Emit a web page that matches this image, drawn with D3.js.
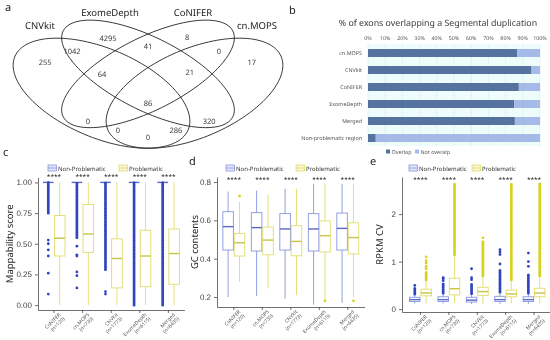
<!DOCTYPE html>
<html lang="en">
<head>
<meta charset="UTF-8">
<title>SD figure</title>
<script src="https://d3js.org/d3.v7.min.js"></script>
<style>
  body { margin: 0; background: #fff; }
  svg { font-family: "Noto Sans", "DejaVu Sans", sans-serif; will-change: transform; }
  text { text-rendering: geometricPrecision; }
</style>
</head>
<body>
<script>
// ---- panel a : venn
var vennSets = ["CNVkit", "ExomeDepth", "CoNIFER", "cn.MOPS"];
var vennCounts = [255, 1042, 4295, 41, 8, 0, 17, 64, 21, 86, 0, 320, 0, 286, 0];

// ---- panel b : % exons overlapping segmental duplication
var sdCats = ["cn.MOPS", "CNVkit", "CoNIFER", "ExomeDepth", "Merged", "Non-problematic region"];
var sdOverlap = [86.8, 95.1, 87.7, 85.0, 85.4, 4.5];
var sdTicks = [0, 10, 20, 30, 40, 50, 60, 70, 80, 90, 100];
var sdLegend = ["Overlap", "Not overalp"];

// ---- panels c-e : boxplots
var groups = ["CoNIFER", "cn.MOPS", "CNVkit", "ExomeDepth", "Merged"];
var groupN = ["(n=120)", "(n=730)", "(n=1773)", "(n=6115)", "(n=6435)"];
var boxLegend = ["Non-Problematic", "Problematic"];

// stats are [lower whisker, q1, median, q3, upper whisker]
var mapNP = [[1, 1, 1, 1, 1], [1, 1, 1, 1, 1], [1, 1, 1, 1, 1], [1, 1, 1, 1, 1], [1, 1, 1, 1, 1]];
var mapP = [[0, 0.40, 0.545, 0.73, 1], [0, 0.43, 0.58, 0.82, 1], [0, 0.14, 0.38, 0.54, 1], [0, 0.15, 0.40, 0.61, 1], [0, 0.17, 0.42, 0.62, 1]];
// stretches where outliers are packed solid, then single outliers
var mapNPRun = [[0.75, 1], [0.55, 1], [0.29, 1], [0, 1], [0, 1]];
var mapNPOut = [[0.53, 0.50, 0.45, 0.40, 0.26, 0.09], [0.48, 0.41, 0.40, 0.27, 0.24, 0.14], [0.11, 0.09], [], []];
var mapPRun = [null, null, null, null, null];
var mapPOut = [[], [], [], [], []];

var gcNP = [[0.20, 0.445, 0.567, 0.645, 0.75], [0.205, 0.44, 0.562, 0.64, 0.755], [0.19, 0.445, 0.555, 0.635, 0.765], [0.16, 0.44, 0.555, 0.635, 0.79], [0.17, 0.445, 0.558, 0.638, 0.79]];
var gcP = [[0.28, 0.414, 0.483, 0.532, 0.697], [0.245, 0.42, 0.497, 0.565, 0.735], [0.21, 0.415, 0.49, 0.572, 0.765], [0.19, 0.435, 0.52, 0.597, 0.79], [0.2, 0.425, 0.51, 0.587, 0.79]];
var gcNPRun = [null, null, null, null, null];
var gcNPOut = [[], [], [], [], []];
var gcPRun = [null, null, null, null, null];
var gcPOut = [[0.727], [], [], [0.18], [0.18]];

var cvNP = [[0.12, 0.16, 0.20, 0.25, 0.32], [0.12, 0.16, 0.20, 0.26, 0.34], [0.11, 0.15, 0.19, 0.25, 0.33], [0.11, 0.16, 0.20, 0.27, 0.36], [0.11, 0.16, 0.20, 0.26, 0.34]];
var cvNPRun = [[0.32, 0.45], [0.34, 0.55], [0.33, 0.55], [0.36, 0.82], [0.34, 0.75]];
var cvNPOut = [[0.5], [0.6, 0.64, 0.66], [0.62, 0.66, 0.85], [0.95, 1.15, 1.2, 1.25], [0.9, 1.0, 1.18]];
var cvP = [[0.12, 0.28, 0.34, 0.42, 0.62], [0.12, 0.30, 0.43, 0.65, 1.15], [0.12, 0.29, 0.37, 0.46, 0.70], [0.12, 0.26, 0.32, 0.40, 0.62], [0.12, 0.26, 0.34, 0.44, 0.70]];
var cvPRun = [[0.62, 0.8], [1.15, 2.65], [0.70, 1.45], [0.62, 2.65], [0.70, 2.65]];
var cvPOut = [[0.85, 0.9, 0.97, 1.02, 1.1], [], [1.5], [], []];

var npCol = "#8796dd", npMed = "#5a68c8", npDot = "#3144c0", npFill = "#e3e7f8";
var pCol = "#e0dc6c", pMed = "#cbc444", pDot = "#d8d21c", pFill = "#f8f6d8";
var txt = "#3a3a3a";

var svg = d3.select("body").append("svg").attr("width", 550).attr("height", 340);

function letter(s, x, y) {
    svg.append("text").attr("x", x).attr("y", y).attr("font-size", 11).attr("fill", "#222").text(s);
}

// ================= a : venn =================
letter("a", 5, 11);
var vx = d3.scaleLinear().domain([0, 1]).range([148 - 155, 148 + 155]);
var vy = d3.scaleLinear().domain([0, 1]).range([87.4 + 96.5, 87.4 - 96.5]);
// ellipses: cx, cy, semi axis a, semi axis b, angle (unit square, y up)
var vennShapes = [[0.35, 0.47, 0.35, 0.20, 135], [0.50, 0.57, 0.36, 0.16, 135], [0.50, 0.57, 0.36, 0.16, 45], [0.65, 0.47, 0.35, 0.20, 45]];
var vennLabelPos = [[0.168, 0.632], [0.255, 0.689], [0.371, 0.756], [0.5, 0.715], [0.626, 0.761], [0.729, 0.689], [0.835, 0.632],
    [0.352, 0.569], [0.635, 0.580], [0.5, 0.419], [0.306, 0.325], [0.697, 0.325], [0.403, 0.279], [0.590, 0.279], [0.5, 0.243]];
var vennNamePos = [[40, 29], [110, 16], [193, 16], [257, 29]];

var ellLine = d3.line().curve(d3.curveLinearClosed);
vennShapes.forEach(function (e) {
    var th = e[4] * Math.PI / 180, pts = [];
    for (var k = 0; k < 120; k++) {
        var t = k / 120 * 2 * Math.PI;
        var ux = e[0] + e[2] * Math.cos(t) * Math.cos(th) - e[3] * Math.sin(t) * Math.sin(th);
        var uy = e[1] + e[2] * Math.cos(t) * Math.sin(th) + e[3] * Math.sin(t) * Math.cos(th);
        pts.push([vx(ux), vy(uy)]);
    }
    svg.append("path").attr("d", ellLine(pts)).attr("fill", "none").attr("stroke", "#222").attr("stroke-width", 0.9);
});
svg.append("g").selectAll("text").data(vennCounts).join("text")
    .attr("x", function (d, i) { return vx(vennLabelPos[i][0]); })
    .attr("y", function (d, i) { return vy(vennLabelPos[i][1]); })
    .attr("dy", "0.35em").attr("text-anchor", "middle").attr("font-size", 7.5).attr("fill", txt)
    .text(function (d) { return d; });
svg.append("g").selectAll("text").data(vennSets).join("text")
    .attr("x", function (d, i) { return vennNamePos[i][0]; })
    .attr("y", function (d, i) { return vennNamePos[i][1]; })
    .attr("text-anchor", "middle").attr("font-size", 9.5).attr("fill", "#222")
    .text(function (d) { return d; });

// ================= b : stacked bars =================
letter("b", 289, 14);
var bx = d3.scaleLinear().domain([0, 100]).range([368, 540]);
var by = d3.scaleBand().domain(sdCats).range([44.5, 146.5]).paddingInner(0.53).paddingOuter(0.265);
var gb = svg.append("g");
gb.append("rect").attr("x", bx(0)).attr("y", 44).attr("width", bx(100) - bx(0)).attr("height", 102).attr("fill", "#eefcfc");
gb.append("g").selectAll("line").data(sdTicks).join("line")
    .attr("x1", bx).attr("x2", bx).attr("y1", 44).attr("y2", 146)
    .attr("stroke", "#d2ecec").attr("stroke-width", 0.6);
gb.append("text").attr("x", 438).attr("y", 26).attr("text-anchor", "middle")
    .attr("font-size", 8.8).attr("fill", txt).text("% of exons overlapping a Segmental duplication");
gb.append("g").selectAll("text").data(sdTicks).join("text")
    .attr("x", bx).attr("y", 40).attr("text-anchor", "middle").attr("font-size", 5.3).attr("fill", "#555")
    .text(function (d) { return d + "%"; });
gb.append("g").selectAll("rect").data(sdCats).join("rect")
    .attr("x", bx(0)).attr("y", function (d) { return by(d); })
    .attr("width", function (d, i) { return bx(sdOverlap[i]) - bx(0); })
    .attr("height", by.bandwidth()).attr("fill", "#56729f");
gb.append("g").selectAll("rect").data(sdCats).join("rect")
    .attr("x", function (d, i) { return bx(sdOverlap[i]); }).attr("y", function (d) { return by(d); })
    .attr("width", function (d, i) { return bx(100) - bx(sdOverlap[i]); })
    .attr("height", by.bandwidth()).attr("fill", "#a5bae6");
gb.append("g").selectAll("text").data(sdCats).join("text")
    .attr("x", 362).attr("y", function (d) { return by(d) + by.bandwidth() / 2; })
    .attr("dy", "0.35em").attr("text-anchor", "end").attr("font-size", 5.4).attr("fill", "#555")
    .text(function (d) { return d; });
var sdLegX = [386, 415], sdLegCol = ["#56729f", "#a5bae6"];
sdLegend.forEach(function (s, i) {
    gb.append("rect").attr("x", sdLegX[i]).attr("y", 149.5).attr("width", 4).attr("height", 4).attr("fill", sdLegCol[i]);
    gb.append("text").attr("x", sdLegX[i] + 5.5).attr("y", 154).attr("font-size", 5.4).attr("fill", "#555").text(s);
});

// ================= c, d, e : boxplots =================
function boxPanel(p) {
    var x = d3.scaleBand().domain(groups).range([p.left, p.right]).paddingOuter(p.pad);
    var y = d3.scaleLinear().domain(p.dom).range([p.bottom, p.top]);
    var step = x.step(), bw = step * 0.37, dodge = step * 0.2;
    var g = svg.append("g");

    var ya = g.append("g").attr("transform", "translate(" + p.left + ",0)")
        .call(d3.axisLeft(y).tickValues(p.ticks).tickFormat(p.fmt).tickSize(3).tickSizeOuter(0));
    var xa = g.append("g").attr("transform", "translate(0," + p.bottom + ")")
        .call(d3.axisBottom(x).tickSize(3).tickSizeOuter(0).tickFormat(""));
    g.selectAll(".domain, .tick line").attr("stroke", "#333").attr("stroke-width", 0.7);
    ya.selectAll("text").attr("font-size", 8).attr("fill", "#444").attr("font-family", null);

    // rotated category labels
    var lab = g.append("g").selectAll("text").data(groups).join("text")
        .attr("transform", function (d) { return "translate(" + (x(d) + step / 2 + 7) + "," + (p.bottom + 5) + ") rotate(-45)"; })
        .attr("text-anchor", "end").attr("font-size", 5).attr("fill", "#555");
    lab.append("tspan").attr("x", 0).text(function (d) { return d; });
    lab.append("tspan").attr("x", 0).attr("dy", "1.15em").text(function (d, i) { return groupN[i]; });

    // axis title
    g.append("text").attr("transform", "translate(" + p.titleX + "," + ((p.top + p.bottom) / 2) + ") rotate(-90)")
        .attr("text-anchor", "middle").attr("font-size", 9.5).attr("fill", "#222").text(p.title);

    var series = [
        { stats: p.np, run: p.npRun, out: p.npOut, off: -dodge, c: npCol, m: npMed, dot: npDot },
        { stats: p.p, run: p.pRun, out: p.pOut, off: dodge, c: pCol, m: pMed, dot: pDot }
    ];
    series.forEach(function (s) {
        var sg = g.append("g").selectAll("g").data(groups).join("g")
            .attr("transform", function (d) { return "translate(" + (x(d) + step / 2 + s.off) + ",0)"; });
        sg.append("line").attr("y1", function (d, i) { return y(s.stats[i][0]); }).attr("y2", function (d, i) { return y(s.stats[i][4]); })
            .attr("stroke", s.c).attr("stroke-width", 0.9);
        sg.append("rect").attr("x", -bw / 2).attr("width", bw)
            .attr("y", function (d, i) { return y(s.stats[i][3]); })
            .attr("height", function (d, i) { return y(s.stats[i][1]) - y(s.stats[i][3]); })
            .attr("fill", "#fff").attr("stroke", s.c).attr("stroke-width", 0.9);
        sg.append("line").attr("x1", -bw / 2).attr("x2", bw / 2)
            .attr("y1", function (d, i) { return y(s.stats[i][2]); }).attr("y2", function (d, i) { return y(s.stats[i][2]); })
            .attr("stroke", s.m).attr("stroke-width", 1.4);
        // packed outliers: dotted stroke with round caps
        sg.filter(function (d, i) { return s.run[i]; }).append("line")
            .attr("y1", function (d) { return y(s.run[groups.indexOf(d)][0]); })
            .attr("y2", function (d) { return y(s.run[groups.indexOf(d)][1]); })
            .attr("stroke", s.dot).attr("stroke-width", 3).attr("stroke-linecap", "round").attr("stroke-dasharray", "0,1.8");
        sg.selectAll("circle").data(function (d, i) { return s.out[i]; }).join("circle")
            .attr("cx", 0).attr("cy", function (v) { return y(v); }).attr("r", 1.4).attr("fill", s.dot);
    });

    // significance stars
    g.append("g").selectAll("text").data(groups).join("text")
        .attr("x", function (d) { return x(d) + step / 2; }).attr("y", p.starY)
        .attr("text-anchor", "middle").attr("font-size", 6.5).attr("fill", "#222").text("****");

    // legend
    var lx = p.legX;
    boxLegend.forEach(function (s, i) {
        var c = i ? pCol : npCol, f = i ? pFill : npFill;
        g.append("rect").attr("x", lx[i]).attr("y", 165).attr("width", 8.5).attr("height", 6)
            .attr("fill", f).attr("stroke", c).attr("stroke-width", 0.8);
        g.append("line").attr("x1", lx[i]).attr("x2", lx[i] + 8.5).attr("y1", 168).attr("y2", 168)
            .attr("stroke", c).attr("stroke-width", 0.8);
        g.append("text").attr("x", lx[i] + 10).attr("y", 170.5).attr("font-size", 6).attr("fill", "#333").text(s);
    });
}

letter("c", 3, 156);
boxPanel({
    left: 38, right: 184.4, pad: 0.06, top: 177.5, bottom: 310, dom: [-0.04, 1.04],
    ticks: [0, 0.25, 0.5, 0.75, 1], fmt: d3.format(".2f"), title: "Mappability score", titleX: 13,
    np: mapNP, npRun: mapNPRun, npOut: mapNPOut, p: mapP, pRun: mapPRun, pOut: mapPOut,
    starY: 178.5, legX: [48, 119]
});

letter("d", 189, 165);
boxPanel({
    left: 217, right: 364.6, pad: 0.09, top: 177, bottom: 307, dom: [0.148, 0.826],
    ticks: [0.2, 0.4, 0.6, 0.8], fmt: d3.format(".1f"), title: "GC contents", titleX: 198,
    np: gcNP, npRun: gcNPRun, npOut: gcNPOut, p: gcP, pRun: gcPRun, pOut: gcPOut,
    starY: 182, legX: [226, 296]
});

letter("e", 370, 165);
boxPanel({
    left: 402, right: 552.5, pad: 0.15, top: 177, bottom: 312, dom: [-0.06, 2.78],
    ticks: [0, 1, 2], fmt: d3.format("d"), title: "RPKM CV", titleX: 383,
    np: cvNP, npRun: cvNPRun, npOut: cvNPOut, p: cvP, pRun: cvPRun, pOut: cvPOut,
    starY: 182, legX: [409, 472]
});
</script>
</body>
</html>
